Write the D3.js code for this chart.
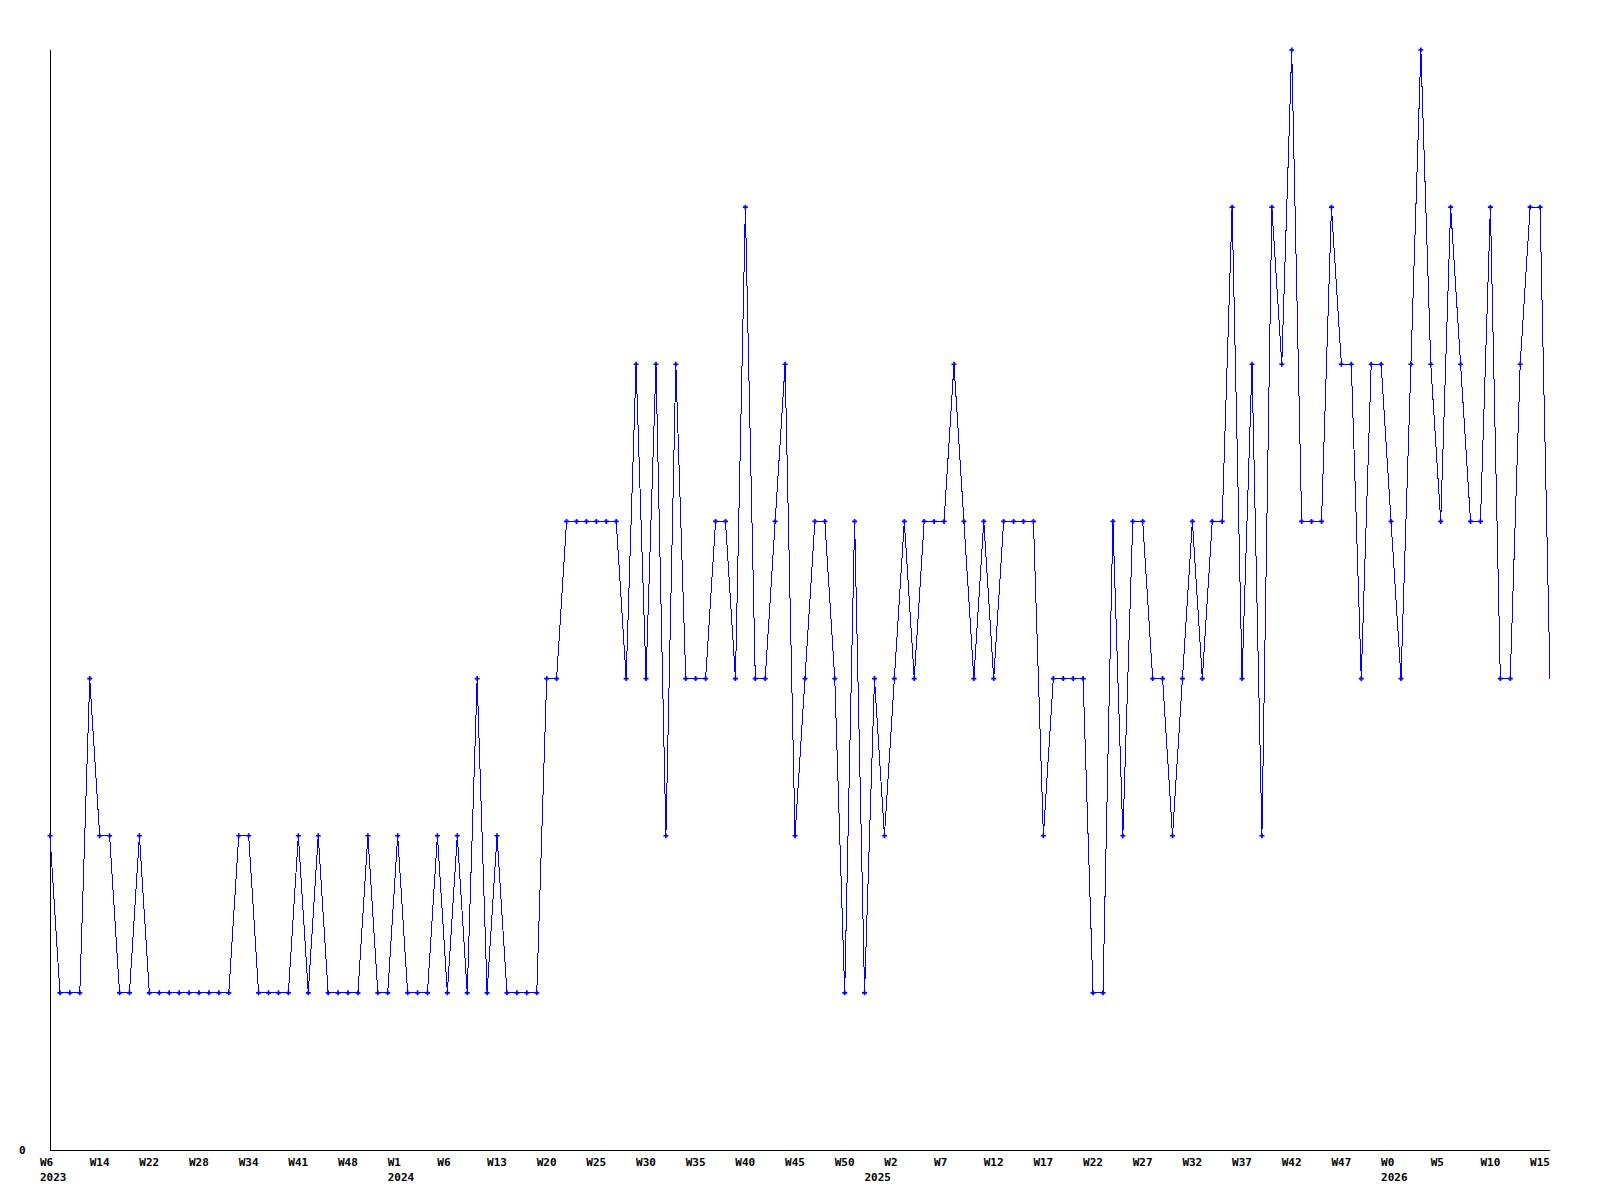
<!DOCTYPE html>
<html>
<head>
<meta charset="utf-8">
<script src="https://cdn.jsdelivr.net/npm/d3@7"></script>
<style>
  body { margin: 0; background: #fff; }
  text { font-family: "DejaVu Sans Mono", monospace; font-weight: bold; font-size: 11px; fill: #000; }
</style>
</head>
<body>
<div id="chart"></div>
<script>
// weekly counts, one per point (last point is the running week, no marker)
var values = [2,1,1,1,3,2,2,1,1,2,
              1,1,1,1,1,1,1,1,1,2,
              2,1,1,1,1,2,1,2,1,1,
              1,1,2,1,1,2,1,1,1,2,
              1,2,1,3,1,2,1,1,1,1,
              3,3,4,4,4,4,4,4,3,5,
              3,5,2,5,3,3,3,4,4,3,
              6,3,3,4,5,2,3,4,4,3,
              1,4,1,3,2,3,4,3,4,4,
              4,5,4,3,4,3,4,4,4,4,
              2,3,3,3,3,1,1,4,2,4,
              4,3,3,2,3,4,3,4,4,6,
              3,5,2,6,5,7,4,4,4,6,
              5,5,3,5,5,4,3,5,7,5,
              4,6,5,4,4,6,3,3,5,6,
              6,3];

// week label under every 5th point
var weekLabels = ["W6","W14","W22","W28","W34","W41","W48","W1","W6","W13",
                  "W20","W25","W30","W35","W40","W45","W50","W2","W7","W12",
                  "W17","W22","W27","W32","W37","W42","W47","W0","W5","W10","W15"];
var labelEvery = 5;

// year labels and the point where each year starts
var years = ["2023","2024","2025","2026"];
var yearIdx = [0, 35, 83, 135];

var yMax = 7;

// note: "top" is taken by window.top, so use plot* names
var totwidth = 1600, totheight = 1200,
    plotLeft = 50, plotRight = 1550, plotTop = 50, plotBottom = 1150;

var svg = d3.select("#chart").append("svg")
    .attr("width", totwidth)
    .attr("height", totheight)
    .style("display", "block");

var x = d3.scaleLinear().domain([0, values.length - 1]).range([plotLeft, plotRight]);
var y = d3.scaleLinear().domain([0, yMax]).range([plotBottom, plotTop]);

// axes (plain lines, no ticks)
svg.append("line")
    .attr("x1", plotLeft + 0.5).attr("x2", plotLeft + 0.5)
    .attr("y1", plotTop).attr("y2", plotBottom + 0.5)
    .attr("stroke", "#000").attr("shape-rendering", "crispEdges");
svg.append("line")
    .attr("x1", plotLeft).attr("x2", plotRight)
    .attr("y1", plotBottom + 0.5).attr("y2", plotBottom + 0.5)
    .attr("stroke", "#000").attr("shape-rendering", "crispEdges");

svg.append("text")
    .attr("x", 19).attr("y", y(0) + 4)
    .text("0");

// x labels, left aligned a bit before the point
svg.selectAll("text.week")
    .data(weekLabels)
  .enter().append("text")
    .attr("class", "week")
    .attr("x", function(d, i) { return x(i * labelEvery) - 10; })
    .attr("y", 1166)
    .text(function(d) { return d; });

svg.selectAll("text.year")
    .data(years)
  .enter().append("text")
    .attr("class", "year")
    .attr("x", function(d, i) { return x(yearIdx[i]) - 10; })
    .attr("y", 1181)
    .text(function(d) { return d; });

// the line
var line = d3.line()
    .x(function(d, i) { return x(i); })
    .y(function(d) { return y(d); });

svg.append("path")
    .datum(values)
    .attr("d", line)
    .attr("fill", "none")
    .attr("stroke", "#0000ff")
    .attr("stroke-width", 1)
    .attr("shape-rendering", "crispEdges");

// small cross markers
var sym = d3.symbol().type(d3.symbolCross).size(14);
svg.selectAll("path.mark")
    .data(values.slice(0, values.length - 1))
  .enter().append("path")
    .attr("class", "mark")
    .attr("d", sym)
    .attr("transform", function(d, i) { return "translate(" + x(i) + "," + y(d) + ")"; })
    .attr("fill", "#0000ff");
</script>
</body>
</html>
